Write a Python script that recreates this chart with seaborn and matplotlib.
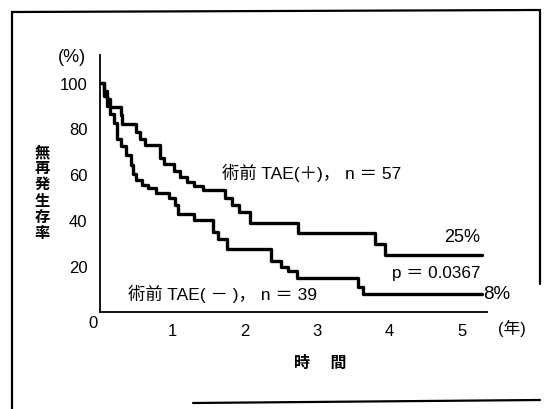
import matplotlib
matplotlib.use("Agg")
import matplotlib.pyplot as plt
from matplotlib.lines import Line2D
import seaborn as sns
import pandas as pd

# ---- data ----
time_plus = [0, 0.05, 0.10, 0.14, 0.29, 0.31, 0.50, 0.55, 0.62, 0.83, 0.88, 1.02, 1.10,
             1.20, 1.30, 1.42, 1.73, 1.83, 1.92, 2.07, 2.74, 3.80, 3.94, 5.28]
surv_plus = [100, 96.3, 92.7, 89.4, 85.9, 82.0, 78.5, 75.6, 72.6, 67.3, 64.5, 61.5, 58.8,
             56.5, 55.0, 53.2, 49.5, 46.5, 43.5, 39.0, 34.5, 29.5, 25.0, 25.0]

time_minus = [0, 0.05, 0.10, 0.14, 0.19, 0.24, 0.29, 0.36, 0.43, 0.46, 0.50, 0.58, 0.67,
              0.77, 0.96, 1.03, 1.08, 1.30, 1.56, 1.63, 1.75, 2.36, 2.50, 2.60, 2.72,
              3.56, 3.63, 5.28]
surv_minus = [100, 94.2, 89.8, 86.1, 82.4, 75.5, 72.5, 68.5, 64.0, 60.0, 57.5, 55.5, 54.0,
              52.0, 49.5, 46.5, 42.5, 40.0, 35.0, 31.8, 27.5, 22.4, 19.4, 17.8, 14.8,
              11.1, 8.0, 8.0]

groups = ["術前TAE(＋)", "術前TAE(－)"]
x_ticks = [0, 1, 2, 3, 4, 5]
x_tick_labels = ["", "1", "2", "3", "4", "5"]
y_ticks = [20, 40, 60, 80, 100]
y_tick_labels = ["20", "40", "60", "80", "100"]

label_plus = "術前 TAE(＋)， n ＝ 57"
label_minus = "術前 TAE( － )， n ＝ 39"
end_plus = "25%"
end_minus = "8%"
p_text = "p ＝ 0.0367"
y_label = "無再発生存率"
x_label = "時　 間"
x_unit = "(年)"
y_unit = "(%)"

df = pd.concat([
    pd.DataFrame({"time": time_plus, "surv": surv_plus, "group": groups[0]}),
    pd.DataFrame({"time": time_minus, "surv": surv_minus, "group": groups[1]}),
], ignore_index=True)

sns.set_theme(style="white")
plt.rcParams["font.family"] = ["Liberation Sans", "Noto Sans CJK JP", "DejaVu Sans"]

W, H = 544, 410
fig = plt.figure(figsize=(W / 100, H / 100), dpi=100)
ax = fig.add_axes([100 / W, (H - 313) / H, 387 / W, (313 - 56) / H])

sns.lineplot(data=df, x="time", y="surv", hue="group", palette=["black", "black"],
             drawstyle="steps-post", linewidth=2.4, estimator=None, legend=False,
             ax=ax)

ax.set_xlim(0, 5.35)
ax.set_ylim(0, 112)
ax.set_xlabel("")
ax.set_ylabel("")
for s in ["top", "right"]:
    ax.spines[s].set_visible(False)
for s in ["left", "bottom"]:
    ax.spines[s].set_color("black")
    ax.spines[s].set_linewidth(1.3)

ax.set_xticks(x_ticks)
ax.set_xticklabels(x_tick_labels)
ax.set_xticks([0.5, 1.5, 2.5, 3.5, 4.5], minor=True)
ax.set_yticks(y_ticks)
ax.set_yticklabels(y_tick_labels)
ax.set_yticks([10, 30, 50, 70, 90], minor=True)
ax.tick_params(axis="both", which="major", direction="out", length=5, width=1.2,
               color="black", labelsize=12, labelcolor="black")
ax.tick_params(axis="both", which="minor", direction="out", length=3, width=1.0,
               color="black")
ax.tick_params(axis="x", which="major", pad=3)
ax.tick_params(axis="y", which="major", pad=4)

def fpx(x, y):
    return x / W, 1 - y / H

tkw = dict(color="black")
fig.text(*fpx(72, 58), y_unit, ha="center", va="center", fontsize=13, **tkw)
fig.text(*fpx(93, 323), "0", ha="center", va="center", fontsize=12, **tkw)
fig.text(*fpx(512, 328), x_unit, ha="center", va="center", fontsize=12, **tkw)
fig.text(*fpx(320, 363), x_label, ha="center", va="center", fontsize=11.5,
         fontweight="bold", **tkw)
fig.text(*fpx(42, 193), "\n".join(y_label), ha="center", va="center", fontsize=11,
         linespacing=1.2, fontweight="bold", **tkw)

ax.text(1.69, 61, label_plus, ha="left", va="center", fontsize=12.5, **tkw)
ax.text(0.39, 8.5, label_minus, ha="left", va="center", fontsize=12.5, **tkw)
ax.text(5.26, 33, end_plus, ha="right", va="center", fontsize=13, **tkw)
ax.text(5.29, 8, end_minus, ha="left", va="center", fontsize=13.5, **tkw)
ax.text(4.03, 17.2, p_text, ha="left", va="center", fontsize=12.3, **tkw)

# scanned frame around the figure
lw = 1.6
fig.add_artist(Line2D([12 / W, 12 / W], [0, 1 - 13 / H], color="black", lw=lw))
fig.add_artist(Line2D([12 / W, 540 / W], [1 - 13 / H, 1 - 11 / H], color="black", lw=lw))
fig.add_artist(Line2D([540 / W, 540 / W], [1 - 11 / H, 1 - 285 / H], color="black", lw=lw))
fig.add_artist(Line2D([193 / W, 540 / W], [1 - 404 / H, 1 - 401 / H], color="black", lw=lw))

fig.savefig("out.png", dpi=100, facecolor="white")
